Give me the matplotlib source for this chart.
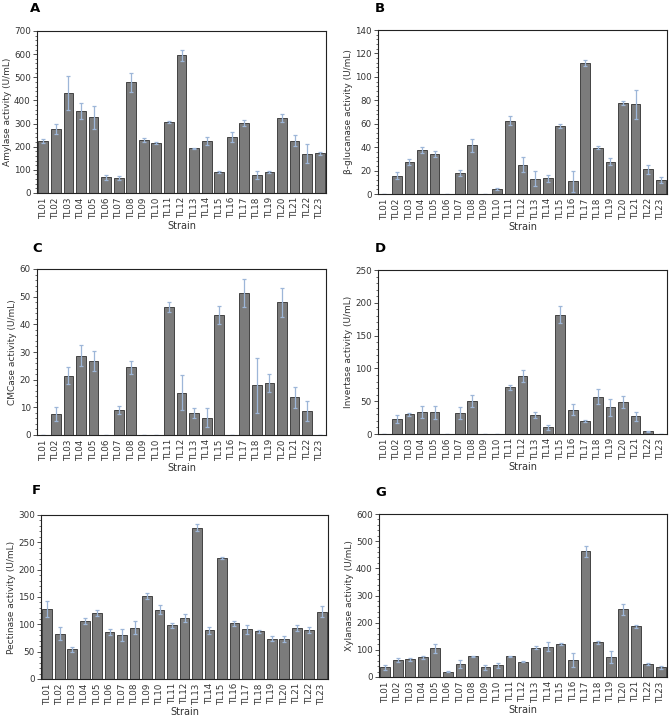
import numpy as np
import matplotlib.pyplot as plt
from matplotlib.ticker import AutoMinorLocator, MultipleLocator

strains = [f"TL{i:02d}" for i in range(1, 24)]

amylase = [225, 275, 432, 353, 328, 68, 65, 478, 228, 215, 307, 595, 193, 224, 89, 242, 303, 77, 90, 325, 226, 170, 171]
amylase_err = [8, 22, 72, 35, 50, 10, 8, 40, 8, 5, 5, 25, 3, 18, 4, 20, 12, 18, 3, 18, 25, 42, 6]

glucanase = [0, 15.5, 27, 37.5, 34, 0, 18, 41.5, 0, 4.5, 62.5, 25, 13, 13.5, 58, 11, 112, 39.5, 27.5, 77.5, 76.5, 21, 12]
glucanase_err = [0, 3, 2.5, 2.5, 2.5, 0, 2.5, 5.5, 0, 1, 4, 6.5, 6.5, 3, 2, 9, 2.5, 1.5, 3, 1.5, 12.5, 3.5, 2.5]

cmcase = [0, 7.5, 21.5, 28.7, 26.8, 0, 9, 24.5, 0, 0, 46.2, 15.3, 7.8, 6.3, 43.4, 0, 51.3, 17.9, 18.7, 47.9, 13.6, 8.7, 0]
cmcase_err = [0, 2.5, 3, 3.7, 3.5, 0, 1.5, 2.3, 0, 0, 1.7, 6.3, 1.8, 3.4, 3.2, 0, 5.2, 9.8, 3.2, 5.2, 3.8, 3.7, 0]

invertase = [0, 23, 30, 34, 33, 0, 32, 50, 0, 0, 71, 88, 29, 10, 182, 37, 20, 57, 41, 49, 27, 4, 0]
invertase_err = [0, 6, 2, 9, 10, 0, 9, 9, 0, 0, 4, 9, 5, 4, 13, 8, 1, 12, 13, 9, 7, 1, 0]

pectinase = [128, 83, 54, 106, 121, 86, 81, 94, 152, 127, 98, 112, 277, 89, 222, 102, 91, 87, 74, 73, 93, 90, 123]
pectinase_err = [15, 12, 4, 6, 6, 6, 11, 12, 5, 9, 4, 7, 6, 6, 2, 5, 8, 2, 4, 6, 6, 5, 10]

xylanase = [35, 63, 65, 72, 105, 20, 48, 76, 35, 43, 76, 57, 108, 112, 122, 63, 462, 127, 73, 250, 186, 49, 36]
xylanase_err = [8, 8, 5, 5, 17, 3, 15, 3, 8, 10, 3, 3, 5, 15, 3, 25, 20, 7, 22, 20, 4, 3, 6]

panels = [
    ("A", amylase, amylase_err, "Amylase activity (U/mL)", 700, 100),
    ("B", glucanase, glucanase_err, "β-glucanase activity (U/mL)", 140, 20),
    ("C", cmcase, cmcase_err, "CMCase activity (U/mL)", 60, 10),
    ("D", invertase, invertase_err, "Invertase activity (U/mL)", 250, 50),
    ("F", pectinase, pectinase_err, "Pectinase activity (U/mL)", 300, 50),
    ("G", xylanase, xylanase_err, "Xylanase activity (U/mL)", 600, 100),
]

# axes boxes in pixels: left, right, top, bottom
boxes = [
    (37, 326, 31, 193), (378, 667, 30, 194),
    (37, 326, 269, 435), (378, 667, 270, 434),
    (41, 328, 515, 679), (379, 667, 514, 677),
]
# panel letter positions (left, centre y) in pixels
letter_pos = [(30, 9), (375, 9), (32, 249), (375, 249), (32, 491), (375, 492)]

W, H = 670, 719
fig = plt.figure(figsize=(W / 100, H / 100), dpi=100)
plt.rcParams['font.family'] = ['DejaVu Sans']

x = np.arange(len(strains))
for (lab, vals, errs, ylabel, ymax, step), (l, r, t, b), (lx, ly) in zip(panels, boxes, letter_pos):
    ax = fig.add_axes([l / W, 1 - b / H, (r - l) / W, (b - t) / H])
    ax.bar(x, vals, width=0.78, color='#7b7b7b', edgecolor='#2f2f2f', linewidth=0.6)
    ax.errorbar(x, vals, yerr=errs, fmt='none', ecolor='#9db6d8',
                elinewidth=0.9, capsize=1.5, capthick=0.9)
    ax.set_xlim(-0.5, len(strains) - 0.5)
    ax.set_ylim(0, ymax)
    ax.yaxis.set_major_locator(MultipleLocator(step))
    ax.yaxis.set_minor_locator(AutoMinorLocator(5))
    ax.set_xticks(x)
    ax.set_xticklabels(strains, rotation=90, fontsize=6.3, color='#333333')
    ax.tick_params(axis='x', length=0, pad=3)
    ax.tick_params(axis='y', which='major', length=3, labelsize=6.3, colors='#333333',
                   width=0.6, pad=1.5)
    ax.tick_params(axis='y', which='minor', length=1.5, width=0.5, color='#333333')
    ax.set_ylabel(ylabel, fontsize=6.5, color='#333333', labelpad=1.5)
    ax.set_xlabel("Strain", fontsize=7, color='#333333', labelpad=2)
    for s in ax.spines.values():
        s.set_linewidth(0.8)
        s.set_color('#222222')
    fig.text(lx / W, 1 - ly / H, lab, fontsize=9.5, fontweight='bold',
             va='center', ha='left')

fig.savefig('out.png', dpi=100)
